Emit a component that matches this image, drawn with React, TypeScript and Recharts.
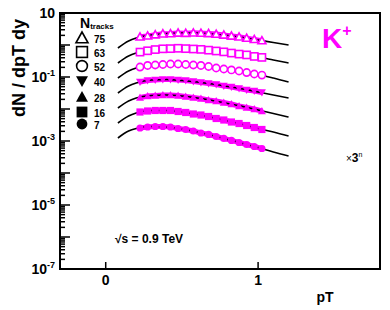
import React from 'react';
import { LineChart, Line, XAxis, YAxis, ReferenceArea } from 'recharts';

// pT points of the fitted curves and of the measured bins
const fitPt = [0.08, 0.15, 0.2, 0.3, 0.4, 0.5, 0.6, 0.7, 0.8, 0.9, 1.0, 1.1, 1.2];
const binPt = [0.225, 0.275, 0.325, 0.375, 0.425, 0.475, 0.525, 0.575, 0.625, 0.675, 0.725, 0.775, 0.825, 0.875, 0.925, 0.975, 1.025];

// fitted curves (already scaled by 3^n)
const fit75 = [0.806, 1.334, 1.655, 2.054, 2.29, 2.371, 2.371, 2.207, 1.98, 1.72, 1.433, 1.2, 1.0];
const fit63 = [0.274, 0.453, 0.562, 0.698, 0.778, 0.778, 0.75, 0.673, 0.583, 0.504, 0.422, 0.34, 0.274];
const fit52 = [0.0931, 0.154, 0.191, 0.237, 0.255, 0.246, 0.229, 0.198, 0.172, 0.143, 0.12, 0.0931, 0.0698];
const fit40 = [0.0316, 0.0523, 0.0649, 0.0806, 0.0836, 0.0778, 0.0698, 0.0604, 0.0505, 0.0422, 0.034, 0.0274, 0.0221];
const fit28 = [0.01075, 0.0178, 0.0221, 0.0264, 0.0274, 0.0255, 0.0221, 0.0184, 0.0149, 0.012, 0.00931, 0.00724, 0.00562];
const fit16 = [0.00365, 0.00604, 0.0075, 0.00898, 0.00898, 0.00806, 0.00673, 0.00542, 0.00422, 0.00328, 0.00246, 0.00191, 0.00143];
const fit7 = [0.00124, 0.00205, 0.00246, 0.00284, 0.00274, 0.00237, 0.00191, 0.00149, 0.00112, 0.000836, 0.000627, 0.000453, 0.00034];

// measured spectra
const data75 = [1.8, 1.93, 2.1, 2.25, 2.28, 2.38, 2.35, 2.4, 2.36, 2.3, 2.2, 2.07, 1.92, 1.8, 1.64, 1.5, 1.37];
const data63 = [0.6, 0.66, 0.72, 0.76, 0.77, 0.79, 0.77, 0.75, 0.73, 0.69, 0.65, 0.61, 0.56, 0.52, 0.49, 0.44, 0.41];
const data52 = [0.205, 0.229, 0.237, 0.246, 0.255, 0.255, 0.246, 0.237, 0.229, 0.213, 0.191, 0.178, 0.166, 0.154, 0.138, 0.124, 0.115];
const data40 = [0.0698, 0.0778, 0.0806, 0.0836, 0.0836, 0.0806, 0.0778, 0.0724, 0.0673, 0.0627, 0.0583, 0.0523, 0.0487, 0.0437, 0.0392, 0.0365, 0.0328];
const data28 = [0.0229, 0.0255, 0.0264, 0.0274, 0.0274, 0.0264, 0.0246, 0.0229, 0.0213, 0.0191, 0.0178, 0.016, 0.0143, 0.0124, 0.0111, 0.01, 0.00866];
const data16 = [0.00806, 0.00866, 0.00898, 0.00898, 0.00898, 0.00836, 0.00778, 0.00698, 0.00649, 0.00583, 0.00505, 0.00453, 0.00392, 0.00352, 0.00305, 0.00264, 0.00229];
const data7 = [0.00255, 0.00274, 0.00284, 0.00284, 0.00274, 0.00246, 0.00229, 0.00205, 0.00178, 0.0016, 0.00138, 0.0012, 0.00104, 0.000898, 0.000778, 0.000673, 0.000583];

const nTracks = ['75', '63', '52', '40', '28', '16', '7'];
const markerKinds = ['triOpen', 'sqOpen', 'circOpen', 'triDown', 'tri', 'sq', 'circ'];
const fits = [fit75, fit63, fit52, fit40, fit28, fit16, fit7];
const spectra = [data75, data63, data52, data40, data28, data16, data7];
const withBand = [true, false, false, true, true, true, true];

const yDecades = [10, 1, 0.1, 0.01, 1e-3, 1e-4, 1e-5, 1e-6, 1e-7];
const yLabelExp: Record<string, string> = { '10': '', '0.1': '-1', '0.001': '-3', '0.00001': '-5', '1e-7': '-7' };
const xTicks = [0, 1];

const MAGENTA = '#ff00ff';
const FONT = 'Liberation Sans, Arial, Helvetica, sans-serif';

const yMinor: number[] = [];
yDecades.slice(1).forEach((d) => {
  for (let k = 2; k <= 9; k++) yMinor.push(d * k);
});
const yTicks = [...yDecades, ...yMinor];

const Marker = ({ kind, cx, cy, s, color }: { kind: string; cx: number; cy: number; s: number; color: string }) => {
  const h = s / 2;
  const open = kind.endsWith('Open');
  const fill = open ? '#fff' : color;
  const sw = open ? 1.6 : 0;
  if (kind.startsWith('triDown')) {
    return <polygon points={`${cx - h},${cy - h * 0.8} ${cx + h},${cy - h * 0.8} ${cx},${cy + h}`} fill={fill} stroke={color} strokeWidth={sw} />;
  }
  if (kind.startsWith('tri')) {
    return <polygon points={`${cx},${cy - h} ${cx - h},${cy + h * 0.8} ${cx + h},${cy + h * 0.8}`} fill={fill} stroke={color} strokeWidth={sw} />;
  }
  if (kind.startsWith('sq')) {
    return <rect x={cx - h * 0.9} y={cy - h * 0.9} width={h * 1.8} height={h * 1.8} fill={fill} stroke={color} strokeWidth={sw} />;
  }
  return <circle cx={cx} cy={cy} r={h * 0.9} fill={fill} stroke={color} strokeWidth={sw} />;
};

const YTick = (props: any) => {
  const { x, y, payload } = props;
  const v = payload.value;
  const major = yDecades.includes(v);
  const exp = yLabelExp[String(v)];
  return (
    <g>
      <line x1={x} x2={x + (major ? 10 : 5)} y1={y} y2={y} stroke="#000" strokeWidth={1.5} />
      {exp !== undefined && (
        <text x={x - 5} y={y + 5} textAnchor="end" fontFamily={FONT} fontWeight="bold" fontSize={14} fill="#000">
          10
          {exp && (
            <tspan dy={-6} fontSize={9}>
              {exp}
            </tspan>
          )}
        </text>
      )}
    </g>
  );
};

const XTick = (props: any) => {
  const { x, y, payload } = props;
  return (
    <g>
      <line x1={x} x2={x} y1={y} y2={y - 7} stroke="#000" strokeWidth={1.5} />
      <text x={x} y={y + 16} textAnchor="middle" fontFamily={FONT} fontWeight="bold" fontSize={14} fill="#000">
        {payload.value}
      </text>
    </g>
  );
};

export default function App() {
  const fitData = fits.map((f) => f.map((v, i) => ({ pt: fitPt[i], v })));
  const specData = spectra.map((s) => s.map((v, i) => ({ pt: binPt[i], v })));

  return (
    <div style={{ position: 'absolute', left: 0, top: 0, width: 390, height: 310, background: '#fff' }}>
      <LineChart width={390} height={310} margin={{ top: 13, right: 10, left: 0, bottom: 0 }}>
        <XAxis
          type="number"
          dataKey="pt"
          domain={[-0.3, 1.8]}
          allowDataOverflow
          ticks={xTicks}
          interval={0}
          tick={<XTick />}
          tickSize={0}
          tickMargin={0}
          tickLine={false}
          axisLine={false}
          height={41}
        />
        <YAxis
          type="number"
          scale="log"
          domain={[1e-7, 10]}
          allowDataOverflow
          ticks={yTicks}
          interval={0}
          tick={<YTick />}
          tickSize={0}
          tickMargin={0}
          tickLine={false}
          axisLine={false}
          width={60}
        />
        <ReferenceArea x1={-0.3} x2={1.8} y1={1e-7} y2={10} fill="none" stroke="#000" strokeWidth={2} />

        {specData.map((d, i) =>
          withBand[i] ? (
            <Line
              key={`band${i}`}
              data={d}
              dataKey="v"
              type="linear"
              stroke={MAGENTA}
              strokeWidth={5}
              dot={false}
              isAnimationActive={false}
            />
          ) : null
        )}
        {specData.map((d, i) => (
          <Line
            key={`pts${i}`}
            data={d}
            dataKey="v"
            stroke="none"
            dot={(p: any) => <Marker key={`m${i}-${p.index}`} kind={markerKinds[i]} cx={p.cx} cy={p.cy} s={8} color={MAGENTA} />}
            isAnimationActive={false}
          />
        ))}
        {fitData.map((d, i) => (
          <Line
            key={`fit${i}`}
            data={d}
            dataKey="v"
            type="monotone"
            stroke="#000"
            strokeWidth={1.6}
            dot={false}
            isAnimationActive={false}
          />
        ))}
      </LineChart>

      <svg width={390} height={310} style={{ position: 'absolute', left: 0, top: 0, pointerEvents: 'none' }}>
        <text
          transform="rotate(-90, 25, 68)"
          x={25}
          y={68}
          textAnchor="middle"
          fontFamily={FONT}
          fontWeight="bold"
          fontSize={18}
          fill="#000"
        >
          dN / dpT dy
        </text>
        <text x={325} y={302} textAnchor="middle" fontFamily={FONT} fontWeight="bold" fontSize={14} fill="#000">
          pT
        </text>

        <text x={80} y={28} fontFamily={FONT} fontWeight="bold" fontSize={14} fill="#000">
          N
          <tspan dy={1} fontSize={8}>
            tracks
          </tspan>
        </text>
        {nTracks.map((n, i) => {
          const cy = [38, 52, 66, 81, 97, 112, 124][i];
          return (
            <g key={n}>
              <Marker kind={markerKinds[i]} cx={82} cy={cy} s={12} color="#000" />
              <text x={94} y={cy + 5} fontFamily={FONT} fontWeight="bold" fontSize={10} fill="#000">
                {n}
              </text>
            </g>
          );
        })}

        <text x={322} y={48} fontFamily={FONT} fontWeight="bold" fontSize={28} fill={MAGENTA}>
          K
          <tspan dy={-12} fontSize={16}>
            +
          </tspan>
        </text>

        <text x={346} y={162} fontFamily={FONT} fontSize={10} fill="#000">
          ×
          <tspan fontWeight="bold" fontSize={12}>3</tspan>
          <tspan dy={-5} fontSize={7}>
            n
          </tspan>
        </text>

        <text x={115} y={243} fontFamily={FONT} fontWeight="bold" fontSize={12} fill="#000">
          √s = 0.9 TeV
        </text>
      </svg>
    </div>
  );
}
